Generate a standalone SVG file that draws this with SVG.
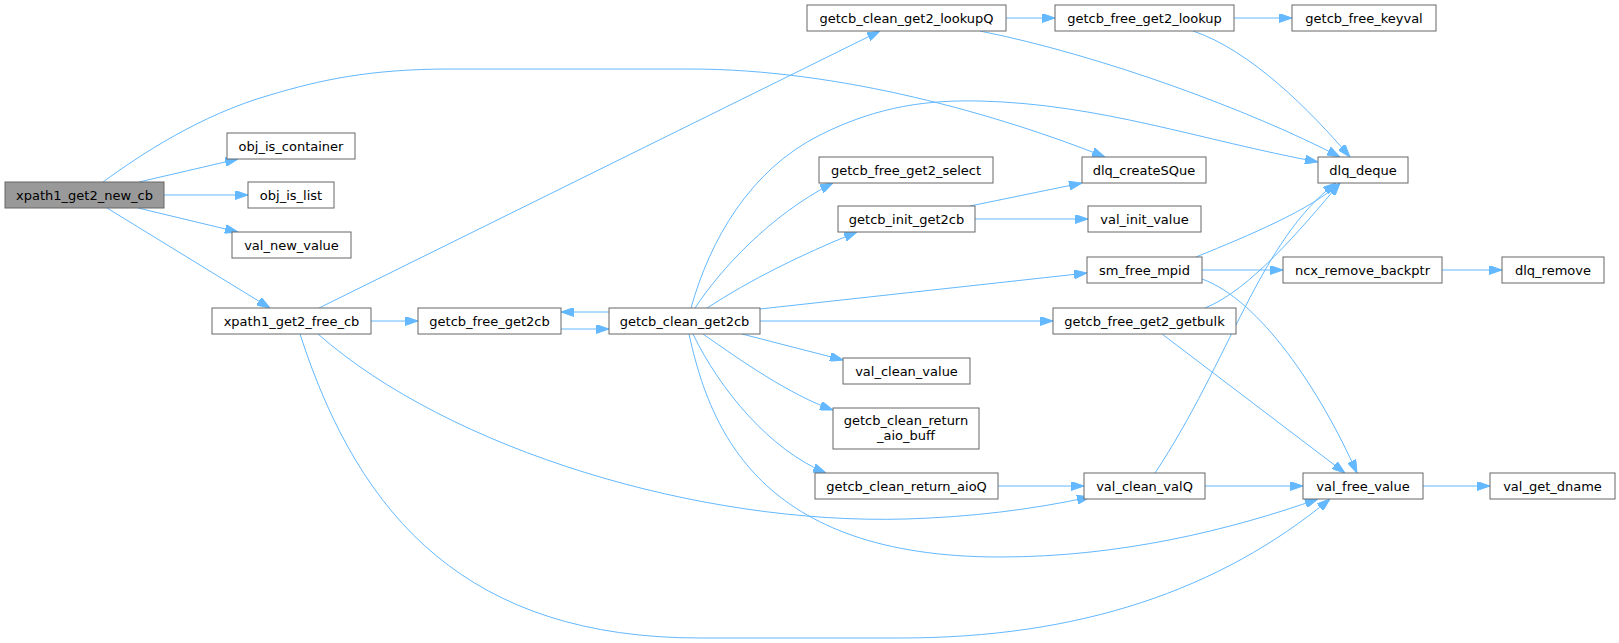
<svg xmlns="http://www.w3.org/2000/svg" width="1619" height="643" viewBox="0 0 1619 643">
<defs>
<style>
.n rect{fill:#ffffff;stroke:#666666;stroke-width:1}
.root rect{fill:#999999;stroke:#666666;stroke-width:1}
text{font-family:"DejaVu Sans","Liberation Sans",sans-serif;font-size:13px;fill:#000000;text-anchor:middle}
.e path{fill:none;stroke:#63b8ff;stroke-width:1;marker-end:url(#ah)}
</style>
<marker id="ah" markerWidth="13" markerHeight="9" refX="13" refY="4.5" orient="auto" markerUnits="userSpaceOnUse" viewBox="0 0 13 9"><path d="M0,0 L13,4.5 L0,9 z" fill="#63b8ff" stroke="#63b8ff" stroke-width="1"/></marker>
</defs>
<rect width="1619" height="643" fill="#ffffff"/>
<g id="edges" class="e">
<path d="M103,182 C140,155 200,115 270,95 C320,80 370,69 450,69 L690,69 C840,69 1000,115 1105,157"/>
<path d="M139,182 L238,159"/>
<path d="M164,195 L248,195"/>
<path d="M138,208 L238,232"/>
<path d="M107,208 L270,308"/>
<path d="M319,308 L880,31"/>
<path d="M371,321 L418,321"/>
<path d="M318,334 C450,450 700,525 906,519 C970,517 1030,510 1090,497"/>
<path d="M300,334 C360,520 470,638 700,638 L900,638 C1080,638 1220,590 1330,499"/>
<path d="M561,329 L609,329"/>
<path d="M609,312 L561,312"/>
<path d="M691,308 C710,240 750,170 820,135 C880,105 930,100 980,101 C1100,104 1200,140 1318,162"/>
<path d="M695,308 C720,270 770,215 833,183"/>
<path d="M707,308 C750,280 800,255 857,232"/>
<path d="M760,309 L1087,273"/>
<path d="M760,321 L1053,321"/>
<path d="M742,334 L843,360"/>
<path d="M703,334 C740,360 790,395 833,410"/>
<path d="M693,334 C720,390 770,450 826,473"/>
<path d="M689,334 C710,430 760,557 1000,557 C1120,557 1230,530 1318,499"/>
<path d="M1006,18 L1055,18"/>
<path d="M980,31 C1100,55 1250,110 1340,157"/>
<path d="M1234,18 L1292,18"/>
<path d="M1193,31 C1250,50 1310,110 1350,157"/>
<path d="M970,206 L1082,183"/>
<path d="M975,219 L1088,219"/>
<path d="M1196,257 C1250,235 1310,210 1340,183"/>
<path d="M1202,270 L1283,270"/>
<path d="M1202,279 C1260,300 1320,390 1357,473"/>
<path d="M1205,308 C1250,290 1300,230 1340,183"/>
<path d="M1162,334 L1345,473"/>
<path d="M1442,270 L1502,270"/>
<path d="M998,486 L1084,486"/>
<path d="M1155,473 C1230,360 1260,240 1336,183"/>
<path d="M1205,486 L1303,486"/>
<path d="M1423,486 L1490,486"/>
</g>
<g id="node-xpath1_get2_new_cb" class="root"><rect x="5" y="182" width="159" height="26"/><text x="84.5" y="199.5">xpath1_get2_new_cb</text></g>
<g id="node-obj_is_container" class="n"><rect x="227" y="133" width="128" height="26"/><text x="291" y="150.5">obj_is_container</text></g>
<g id="node-obj_is_list" class="n"><rect x="248" y="182" width="86" height="26"/><text x="291" y="199.5">obj_is_list</text></g>
<g id="node-val_new_value" class="n"><rect x="232" y="232" width="119" height="26"/><text x="291.5" y="249.5">val_new_value</text></g>
<g id="node-xpath1_get2_free_cb" class="n"><rect x="212" y="308" width="159" height="26"/><text x="291.5" y="325.5">xpath1_get2_free_cb</text></g>
<g id="node-getcb_free_get2cb" class="n"><rect x="418" y="308" width="143" height="26"/><text x="489.5" y="325.5">getcb_free_get2cb</text></g>
<g id="node-getcb_clean_get2cb" class="n"><rect x="609" y="308" width="151" height="26"/><text x="684.5" y="325.5">getcb_clean_get2cb</text></g>
<g id="node-getcb_clean_get2_lookupQ" class="n"><rect x="807" y="5" width="199" height="26"/><text x="906.5" y="22.5">getcb_clean_get2_lookupQ</text></g>
<g id="node-getcb_free_get2_lookup" class="n"><rect x="1055" y="5" width="179" height="26"/><text x="1144.5" y="22.5">getcb_free_get2_lookup</text></g>
<g id="node-getcb_free_keyval" class="n"><rect x="1292" y="5" width="144" height="26"/><text x="1364" y="22.5">getcb_free_keyval</text></g>
<g id="node-getcb_free_get2_select" class="n"><rect x="819" y="157" width="174" height="26"/><text x="906" y="174.5">getcb_free_get2_select</text></g>
<g id="node-dlq_createSQue" class="n"><rect x="1082" y="157" width="124" height="26"/><text x="1144" y="174.5">dlq_createSQue</text></g>
<g id="node-dlq_deque" class="n"><rect x="1318" y="157" width="90" height="26"/><text x="1363" y="174.5">dlq_deque</text></g>
<g id="node-getcb_init_get2cb" class="n"><rect x="838" y="206" width="137" height="26"/><text x="906.5" y="223.5">getcb_init_get2cb</text></g>
<g id="node-val_init_value" class="n"><rect x="1088" y="206" width="113" height="26"/><text x="1144.5" y="223.5">val_init_value</text></g>
<g id="node-sm_free_mpid" class="n"><rect x="1087" y="257" width="115" height="26"/><text x="1144.5" y="274.5">sm_free_mpid</text></g>
<g id="node-ncx_remove_backptr" class="n"><rect x="1283" y="257" width="159" height="26"/><text x="1362.5" y="274.5">ncx_remove_backptr</text></g>
<g id="node-dlq_remove" class="n"><rect x="1502" y="257" width="102" height="26"/><text x="1553" y="274.5">dlq_remove</text></g>
<g id="node-getcb_free_get2_getbulk" class="n"><rect x="1053" y="308" width="183" height="26"/><text x="1144.5" y="325.5">getcb_free_get2_getbulk</text></g>
<g id="node-val_clean_value" class="n"><rect x="843" y="358" width="127" height="26"/><text x="906.5" y="375.5">val_clean_value</text></g>
<g id="node-getcb_clean_return_aio_buff" class="n"><rect x="833" y="408" width="146" height="41"/><text x="906" y="425">getcb_clean_return</text><text x="906" y="440">_aio_buff</text></g>
<g id="node-getcb_clean_return_aioQ" class="n"><rect x="815" y="473" width="183" height="26"/><text x="906.5" y="490.5">getcb_clean_return_aioQ</text></g>
<g id="node-val_clean_valQ" class="n"><rect x="1084" y="473" width="121" height="26"/><text x="1144.5" y="490.5">val_clean_valQ</text></g>
<g id="node-val_free_value" class="n"><rect x="1303" y="473" width="120" height="26"/><text x="1363" y="490.5">val_free_value</text></g>
<g id="node-val_get_dname" class="n"><rect x="1490" y="473" width="125" height="26"/><text x="1552.5" y="490.5">val_get_dname</text></g>
</svg>
